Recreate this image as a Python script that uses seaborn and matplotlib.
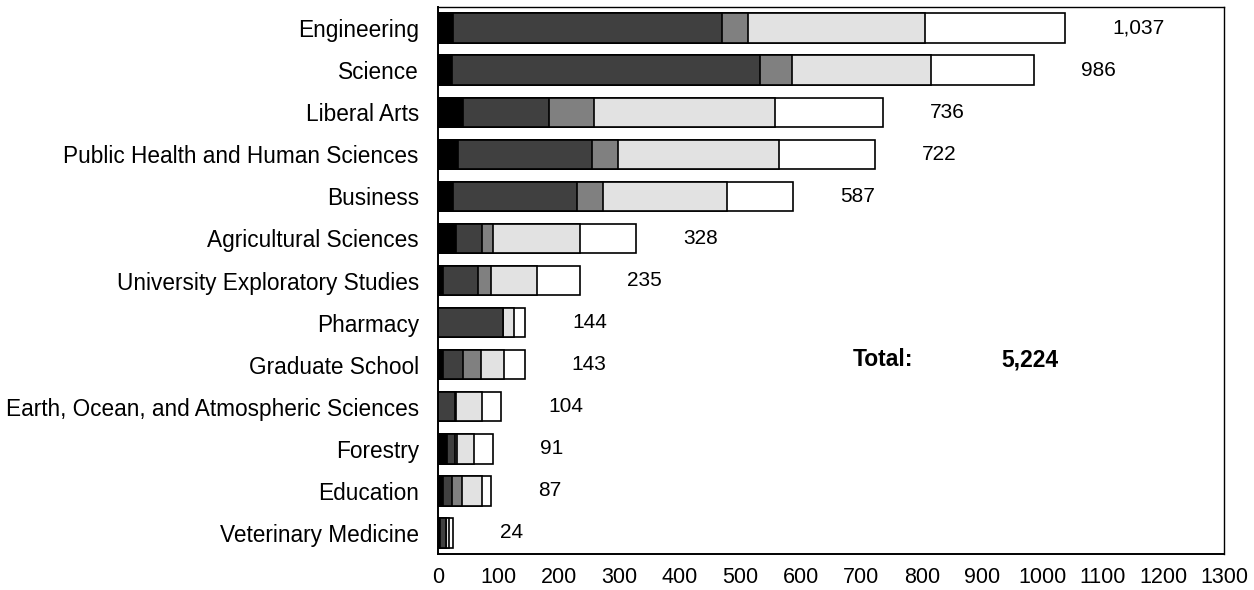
import numpy as np
import pandas as pd
import matplotlib
matplotlib.use("Agg")
import matplotlib.pyplot as plt
import seaborn as sns

colleges = [
    "Engineering", "Science", "Liberal Arts", "Public Health and Human Sciences",
    "Business", "Agricultural Sciences", "University Exploratory Studies",
    "Pharmacy", "Graduate School", "Earth, Ocean, and Atmospheric Sciences",
    "Forestry", "Education", "Veterinary Medicine",
]
seg_black = [24, 22, 41, 32, 25, 29, 7, 0, 7, 0, 14, 8, 3]
seg_dark = [446, 511, 142, 222, 205, 44, 59, 107, 34, 28, 14, 15, 9]
seg_mid = [42, 52, 74, 43, 42, 17, 21, 0, 29, 2, 3, 16, 1]
seg_light = [294, 231, 300, 267, 205, 144, 77, 18, 38, 42, 28, 34, 5]
seg_white = [231, 170, 179, 158, 110, 94, 71, 19, 35, 32, 32, 14, 6]

segments = [seg_black, seg_dark, seg_mid, seg_light, seg_white]
seg_colors = ["#000000", "#404040", "#808080", "#e2e2e2", "#ffffff"]

sns.set_theme(style="white")
plt.rcParams["font.family"] = ["Liberation Sans", "DejaVu Sans"]

fig = plt.figure(figsize=(12.54, 5.90), dpi=100)
ax = fig.add_axes([0.3495, 0.061, 0.6265, 0.927])

cum = np.cumsum(np.array(segments), axis=0)
totals = cum[-1]

# draw cumulative bars from the full total back to the first segment
for k in range(len(segments) - 1, -1, -1):
    df = pd.DataFrame({"college": colleges, "value": cum[k]})
    sns.barplot(data=df, x="value", y="college", orient="h", color=seg_colors[k],
                saturation=1, edgecolor="black", linewidth=1.2, width=0.7,
                errorbar=None, ax=ax)

for i, t in enumerate(totals):
    ax.text(t + 78, i, f"{int(t):,}", ha="left", va="center", fontsize=15, color="black")

grand_total = int(totals.sum())
ax.text(686, 8 - 0.12, "Total:", ha="left", va="center", fontsize=16.5,
        fontweight="bold", color="black")
ax.text(932, 8 - 0.12, f"{grand_total:,}", ha="left", va="center", fontsize=16.5,
        fontweight="bold", color="black")

ax.set_xlim(0, 1300)
ax.set_ylim(len(colleges) - 0.5, -0.5)
ax.set_xticks(np.arange(0, 1301, 100))
ax.set_xticklabels([str(v) for v in range(0, 1301, 100)], fontsize=15.5)
ax.set_yticks(np.arange(len(colleges)))
ax.set_yticklabels(colleges, fontsize=16.3)
ax.set_yticks(np.arange(-0.5, len(colleges)), minor=True)
ax.tick_params(axis="y", which="major", length=0, pad=14, colors="black")
ax.tick_params(axis="y", which="minor", length=4, width=1.2, direction="out", color="black")
ax.tick_params(axis="x", which="major", length=4, width=1.2, direction="out", pad=5, color="black",
               labelcolor="black")
ax.set_xlabel("")
ax.set_ylabel("")
for s in ["left", "bottom"]:
    ax.spines[s].set_color("black")
    ax.spines[s].set_linewidth(1.4)
for s in ["top", "right"]:
    ax.spines[s].set_visible(True)
    ax.spines[s].set_color("black")
    ax.spines[s].set_linewidth(1.0)
ax.grid(False)

fig.savefig("out.png", dpi=100, facecolor="white")
